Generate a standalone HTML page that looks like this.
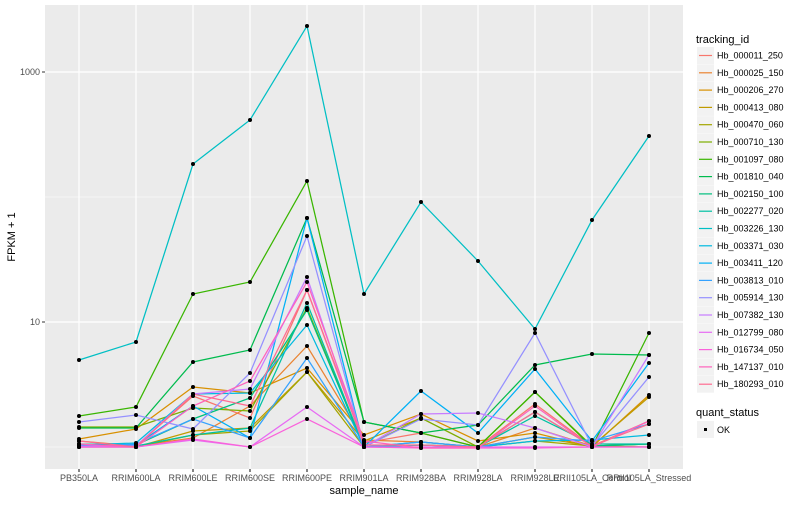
<!DOCTYPE html>
<html><head><meta charset="utf-8"><style>
body{margin:0;background:#fff;}
svg text{font-family:"Liberation Sans",sans-serif;}
</style></head><body>
<svg id="s" width="800" height="500" xmlns="http://www.w3.org/2000/svg">
<rect x="0" y="0" width="800" height="500" fill="#fff"/>
<rect x="45" y="5" width="638" height="464" fill="#EBEBEB"/>
<g stroke="#fff" stroke-width="0.6"><line x1="45" x2="683" y1="197" y2="197"/><line x1="45" x2="683" y1="447" y2="447"/></g>
<g stroke="#fff" stroke-width="1.2"><line x1="45" x2="683" y1="72" y2="72"/><line x1="45" x2="683" y1="322" y2="322"/></g>
<g id="vg" stroke="#fff" stroke-width="1.2"></g>
<g id="lines" fill="none" stroke-width="1.25"></g>
<g id="pts" fill="#000"></g>
<g font-size="9" fill="#4D4D4D" text-anchor="end"><text x="40" y="75">1000</text><text x="40" y="325">10</text></g>
<g stroke="#333" stroke-width="1"><line x1="42" x2="45" y1="72" y2="72"/><line x1="42" x2="45" y1="322" y2="322"/></g>
<g id="xl" font-size="9" fill="#4D4D4D" text-anchor="middle"></g>
<text x="364" y="494" font-size="11" text-anchor="middle" fill="#000">sample_name</text>
<text transform="translate(15,237) rotate(-90)" font-size="11" text-anchor="middle" fill="#000">FPKM + 1</text>
<text x="696" y="43" font-size="11" fill="#000">tracking_id</text>
<g id="leg"></g>
<text x="696" y="416" font-size="11" fill="#000">quant_status</text>
<rect x="697" y="421" width="17" height="17" fill="#F2F2F2"/>
<rect x="704" y="428" width="3" height="3" fill="#000"/>
<text x="717" y="433" font-size="9" fill="#000">OK</text>
</svg>
<script>
var X=[79,136,193,250,307,364,421,478,535,592,649];
var names=["PB350LA","RRIM600LA","RRIM600LE","RRIM600SE","RRIM600PE","RRIM901LA","RRIM928BA","RRIM928LA","RRIM928LE","RRII105LA_Control","RRII105LA_Stressed"];
var cols=["#F8766D","#EA8331","#D89000","#C09B00","#A3A500","#7CAE00","#39B600","#00BB4E","#00BF7D","#00C1A3","#00BFC4","#00BAE0","#00B0F6","#35A2FF","#9590FF","#C77CFF","#E76BF3","#FA62DB","#FF62BC","#FF6C91"];
var ids=["Hb_000011_250","Hb_000025_150","Hb_000206_270","Hb_000413_080","Hb_000470_060","Hb_000710_130","Hb_001097_080","Hb_001810_040","Hb_002150_100","Hb_002277_020","Hb_003226_130","Hb_003371_030","Hb_003411_120","Hb_003813_010","Hb_005914_130","Hb_007382_130","Hb_012799_080","Hb_016734_050","Hb_147137_010","Hb_180293_010"];
var D=[
[445,446,396,418,290,443,433,447,404,446,421],
[441,446,438,406,346,440,442,447,428,446,444],
[439,429,387,393,368,435,414,441,433,447,395],
[446,447,431,428,372,441,418,447,437,446,397],
[447,447,435,431,372,447,445,447,441,446,447],
[427,427,408,411,308,447,418,447,392,446,444],
[416,407,294,282,181,422,433,447,392,447,333],
[428,428,362,350,218,422,433,425,365,354,355],
[444,445,419,398,310,447,445,447,412,446,444],
[446,446,435,428,303,447,442,447,416,444,444],
[360,342,164,120,26,294,202,261,329,220,136],
[445,443,394,393,325,447,445,447,441,440,435],
[446,445,406,438,218,447,391,433,369,441,363],
[447,444,419,438,358,447,442,447,437,441,424],
[422,415,429,373,236,447,419,425,333,446,377],
[446,446,394,389,277,447,414,413,428,447,355],
[447,447,440,447,407,447,447,447,447,447,447],
[447,447,439,447,419,447,448,448,448,447,447],
[444,447,406,381,282,441,448,448,406,447,421],
[441,447,394,406,290,445,445,447,412,446,424]];
var ns="http://www.w3.org/2000/svg";
function el(t,a,p){var e=document.createElementNS(ns,t);for(var k in a)e.setAttribute(k,a[k]);document.getElementById(p).appendChild(e);return e;}
X.forEach(function(x,i){el("line",{x1:x,x2:x,y1:5,y2:469},"vg");
var t=el("text",{x:x,y:481},"xl");t.textContent=names[i];
el("line",{x1:x,x2:x,y1:469,y2:472,stroke:"#333"},"vg");});
D.forEach(function(d,j){el("polyline",{points:d.map(function(y,i){return X[i]+","+y}).join(" "),stroke:cols[j]},"lines");
d.forEach(function(y,i){el("circle",{cx:X[i],cy:y,r:2},"pts");});
var y0=47+j*17.3;el("rect",{x:697,y:y0,width:17,height:17,fill:"#F2F2F2"},"leg");
el("line",{x1:699,x2:712,y1:y0+8.5,y2:y0+8.5,stroke:cols[j],"stroke-width":1.2},"leg");
var t=el("text",{x:717,y:y0+11.5,"font-size":9,fill:"#000"},"leg");t.textContent=ids[j];});
</script>
</body></html>
